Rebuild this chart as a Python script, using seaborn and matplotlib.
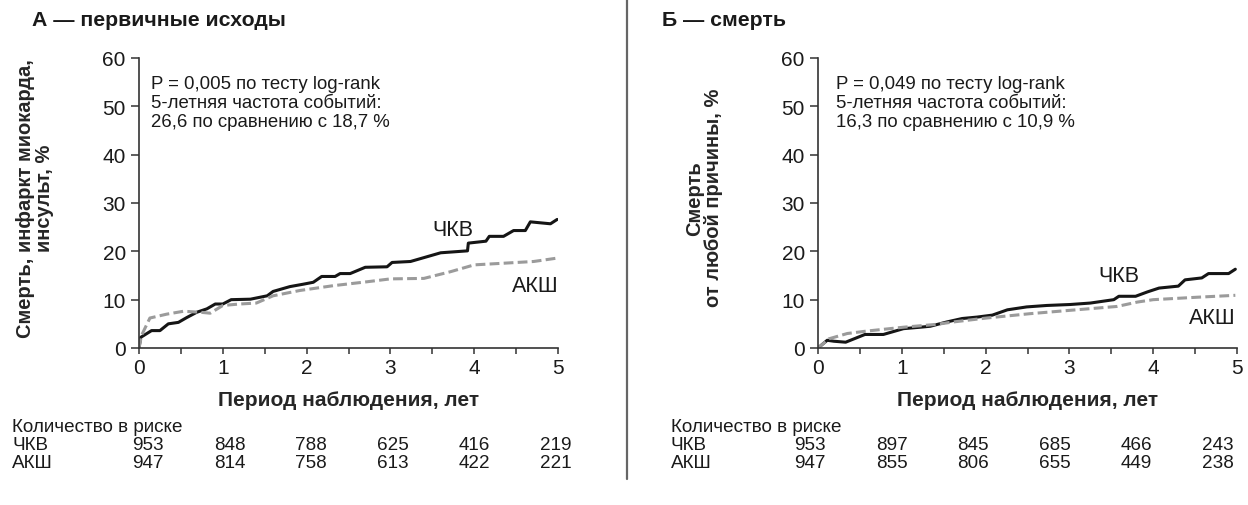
import numpy as np
import pandas as pd
import matplotlib
matplotlib.use("Agg")
import matplotlib.pyplot as plt
from matplotlib.lines import Line2D
import seaborn as sns

# Kaplan-Meier style curves, PCI vs CABG, two panels (primary outcome / death)

# Panel A - primary outcome (years, %)
a_pci_t = [0, 0.02, 0.15, 0.25, 0.35, 0.47, 0.57, 0.69, 0.81, 0.91, 1.0, 1.1, 1.33, 1.53, 1.6,
           1.8, 1.96, 2.08, 2.18, 2.34, 2.4, 2.52, 2.7, 2.96, 3.02, 3.24, 3.6, 3.92, 3.93, 4.14,
           4.18, 4.35, 4.47, 4.61, 4.67, 4.91, 4.99]
a_pci_y = [0, 2.2, 3.6, 3.6, 5.0, 5.3, 6.3, 7.4, 8.1, 9.1, 9.1, 10.0, 10.1, 10.8, 11.7,
           12.7, 13.2, 13.6, 14.8, 14.8, 15.4, 15.4, 16.7, 16.8, 17.7, 17.9, 19.7, 20.1, 21.7, 22.1,
           23.1, 23.1, 24.3, 24.3, 26.1, 25.7, 26.6]
a_cabg_t = [0, 0.03, 0.13, 0.33, 0.53, 0.73, 0.85, 1.0, 1.2, 1.4, 1.6, 1.92, 2.32, 2.72, 3.0,
            3.4, 3.72, 4.0, 4.31, 4.71, 4.99]
a_cabg_y = [0, 2.6, 6.2, 7.0, 7.6, 7.4, 7.2, 8.8, 9.1, 9.3, 10.8, 11.9, 12.9, 13.7, 14.3,
            14.4, 15.8, 17.2, 17.5, 17.9, 18.6]

# Panel B - death from any cause
b_pci_t = [0, 0.11, 0.19, 0.33, 0.56, 0.78, 1.02, 1.22, 1.34, 1.54, 1.72, 1.9, 2.08, 2.26, 2.49,
           2.73, 3.01, 3.25, 3.53, 3.59, 3.79, 3.93, 4.07, 4.3, 4.38, 4.58, 4.66, 4.9, 4.98]
b_pci_y = [0, 1.6, 1.4, 1.2, 2.8, 2.8, 4.0, 4.3, 4.5, 5.4, 6.1, 6.4, 6.8, 7.9, 8.5,
           8.8, 9.0, 9.3, 10.0, 10.7, 10.7, 11.6, 12.4, 12.8, 14.1, 14.5, 15.4, 15.4, 16.3]
b_cabg_t = [0, 0.13, 0.35, 0.58, 1.02, 1.42, 1.62, 2.01, 2.53, 3.01, 3.57, 3.81, 4.0, 4.52, 4.98]
b_cabg_y = [0, 1.9, 3.0, 3.5, 4.3, 4.9, 5.4, 6.2, 7.1, 7.8, 8.6, 9.5, 10.0, 10.5, 10.9]

groups = ["ЧКВ", "АКШ"]
risk_label = "Количество в риске"
a_risk_pci = [953, 848, 788, 625, 416, 219]
a_risk_cabg = [947, 814, 758, 613, 422, 221]
b_risk_pci = [953, 897, 845, 685, 466, 243]
b_risk_cabg = [947, 855, 806, 655, 449, 238]

titles = ["А — первичные исходы", "Б — смерть"]
ylabels = ["Смерть, инфаркт миокарда,\nинсульт, %", "Смерть\nот любой причины, %"]
xlabel = "Период наблюдения, лет"
notes = ["P = 0,005 по тесту log-rank\n5-летняя частота событий:\n26,6 по сравнению с 18,7 %",
         "P = 0,049 по тесту log-rank\n5-летняя частота событий:\n16,3 по сравнению с 10,9 %"]

sns.set_style("ticks")
plt.rcParams["font.family"] = ["Liberation Sans", "DejaVu Sans"]
plt.rcParams["text.color"] = "#1a1a1a"

W, H = 1248, 506
fig = plt.figure(figsize=(W / 100, H / 100), dpi=100)


def px(x, y):
    return x / W, 1 - y / H


palette = {"ЧКВ": "#151515", "АКШ": "#9b9b9b"}

panels = [
    dict(left=139, pci=(a_pci_t, a_pci_y), cabg=(a_cabg_t, a_cabg_y), ylab_x=54,
         note_x=151, title_x=32, pci_lab=(3.74, 24.6), cabg_lab=(4.73, 12.9),
         risk=(a_risk_pci, a_risk_cabg), tab_x=12, num_x=164),
    dict(left=818, pci=(b_pci_t, b_pci_y), cabg=(b_cabg_t, b_cabg_y), ylab_x=723,
         note_x=836, title_x=662, pci_lab=(3.59, 14.9), cabg_lab=(4.7, 6.4),
         risk=(b_risk_pci, b_risk_cabg), tab_x=671, num_x=826),
]

for i, p in enumerate(panels):
    ax = fig.add_axes([p["left"] / W, 1 - 349 / H, 419 / W, 290 / H])
    df = pd.concat([
        pd.DataFrame({"t": p["pci"][0], "y": p["pci"][1], "grp": groups[0]}),
        pd.DataFrame({"t": p["cabg"][0], "y": p["cabg"][1], "grp": groups[1]}),
    ])
    sns.lineplot(data=df, x="t", y="y", hue="grp", style="grp", palette=palette,
                 dashes={"ЧКВ": "", "АКШ": (3.2, 1.4)}, estimator=None, sort=False,
                 linewidth=2.2, legend=False, ax=ax)

    ax.set_xlim(0, 5)
    ax.set_ylim(0, 60)
    ax.set_xticks(range(6))
    ax.set_xticks(np.arange(0.5, 5, 1), minor=True)
    ax.set_yticks(range(0, 61, 10))
    ax.tick_params(axis="both", labelsize=15, colors="#333333", labelcolor="#1a1a1a",
                   width=1.1)
    ax.tick_params(axis="x", which="both", length=4, width=1.1, color="#333333", pad=3)
    ax.tick_params(axis="y", length=5.5, pad=4)
    sns.despine(ax=ax)
    for s in ["left", "bottom"]:
        ax.spines[s].set_color("#333333")
        ax.spines[s].set_linewidth(1.2)
    ax.margins(0)
    ax.set_facecolor("white")

    ax.set_xlabel(xlabel, fontsize=15, fontweight="bold")
    ax.xaxis.set_label_coords(0.5, -0.145)
    ax.set_ylabel(ylabels[i], fontsize=14.5, fontweight="bold", linespacing=1.0)
    ax.yaxis.set_label_coords((p["ylab_x"] - p["left"]) / 419, 0.52)

    ax.text(*p["pci_lab"], groups[0], fontsize=15.5, ha="center", va="center")
    ax.text(*p["cabg_lab"], groups[1], fontsize=15.5, ha="center", va="center")

    fig.text(*px(p["note_x"], 76), notes[i], fontsize=13.4, va="top", ha="left",
             linespacing=1.15)
    fig.text(*px(p["title_x"], 20), titles[i], fontsize=15.3, fontweight="bold",
             va="center", ha="left")

    # number at risk table
    fig.text(*px(p["tab_x"], 428), risk_label, fontsize=13.6, va="center")
    for r, (name, vals) in enumerate(zip(groups, p["risk"])):
        yy = 446 + r * 18
        fig.text(*px(p["tab_x"], yy), name, fontsize=13.6, va="center")
        for k, v in enumerate(vals):
            fig.text(*px(p["num_x"] + k * 81.5, yy), str(v), fontsize=13.6,
                     va="center", ha="right")

fig.add_artist(Line2D([627 / W, 627 / W], [1, 1 - 480 / H], color="#666666", lw=1.6))

fig.savefig("out.png", dpi=100, facecolor="white")
